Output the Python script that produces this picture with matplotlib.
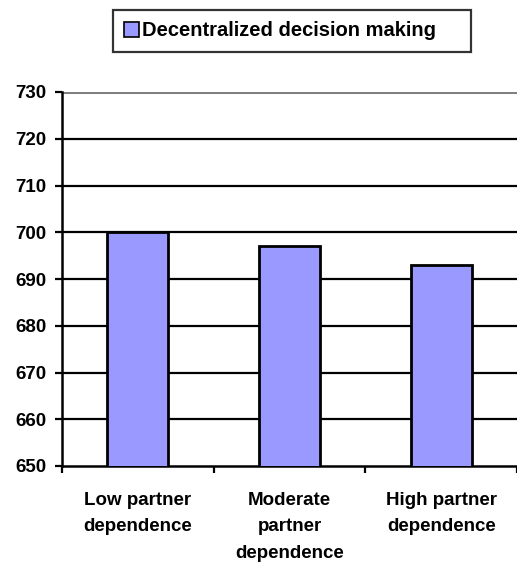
import matplotlib
matplotlib.use("Agg")
import matplotlib.pyplot as plt
from matplotlib.patches import Patch

categories = ["Low partner\ndependence", "Moderate\npartner\ndependence", "High partner\ndependence"]
values = [700, 697, 693]
series_name = "Decentralized decision making"
yticks = [650, 660, 670, 680, 690, 700, 710, 720, 730]

plt.rcParams["font.family"] = ["Liberation Sans", "DejaVu Sans"]
plt.rcParams["font.weight"] = "bold"

fig = plt.figure(figsize=(5.17, 5.66), dpi=100)
ax = fig.add_axes([62 / 517, 100 / 566, 455 / 517, 374 / 566])

bar_color = "#9999ff"
x = list(range(len(categories)))
ax.bar(x, values, width=0.4, color=bar_color, edgecolor="black", linewidth=2.0, zorder=3)

ax.set_ylim(650, 730)
ax.set_xlim(-0.5, len(categories) - 0.5)
ax.set_yticks(yticks)
ax.set_yticklabels([str(t) for t in yticks], fontsize=13.5, fontweight="bold")
for t in yticks[1:-1]:
    ax.axhline(t, color="black", linewidth=1.6, zorder=1)
ax.axhline(730, color="#808080", linewidth=2.2, zorder=1)

ax.set_xticks([i - 0.5 for i in range(len(categories) + 1)])
ax.set_xticklabels([])
ax.set_xticks(x, minor=True)
ax.set_xticklabels(categories, minor=True, fontsize=13.5, fontweight="bold", linespacing=1.7)
ax.tick_params(axis="x", which="minor", length=0, pad=19)
ax.tick_params(axis="x", which="major", length=5, width=1.6, direction="out")
ax.tick_params(axis="y", length=5, width=1.6, direction="out", pad=6)

for side in ["top", "right"]:
    ax.spines[side].set_visible(False)
ax.spines["left"].set_linewidth(1.8)
ax.spines["bottom"].set_linewidth(1.8)

handle = Patch(facecolor=bar_color, edgecolor="black", linewidth=1.2)
leg = fig.legend([handle], [series_name], loc="center left", mode="expand",
                 bbox_to_anchor=(113 / 517, 1 - 52 / 566, 358 / 517, 42 / 566),
                 frameon=True, fancybox=False, edgecolor="black", handlelength=0.75, handleheight=0.75,
                 handletextpad=0.15, borderpad=0.55, borderaxespad=0,
                 prop={"size": 14.5, "weight": "bold"})
leg.get_frame().set_linewidth(1.6)

fig.savefig("out.png", dpi=100)
